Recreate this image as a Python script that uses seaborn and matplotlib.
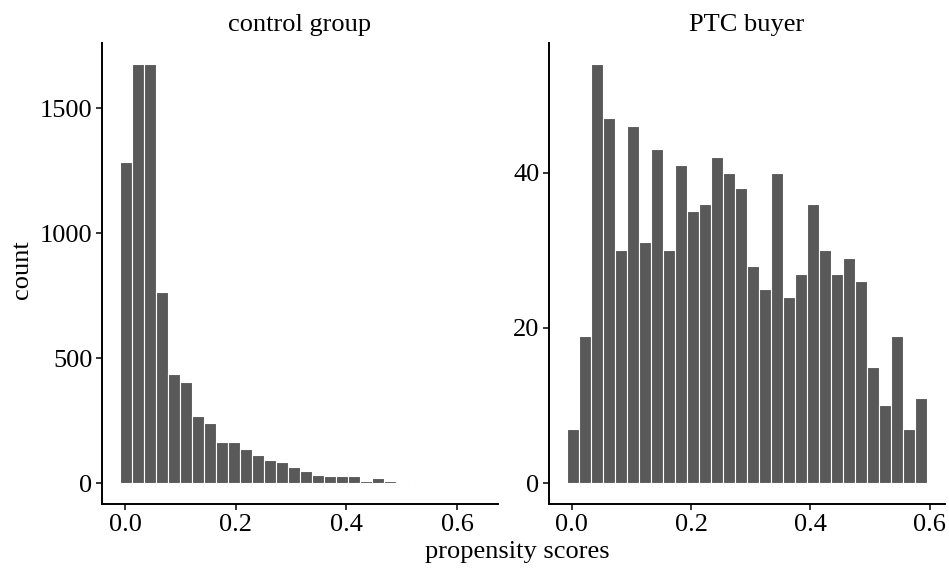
import numpy as np
import pandas as pd
import matplotlib
matplotlib.use("Agg")
import matplotlib.pyplot as plt
import seaborn as sns

# ---- data ----
panels = ["control group", "PTC buyer"]
control_counts = [1285, 1677, 1675, 763, 438, 405, 270, 239, 164, 164,
                  135, 112, 94, 83, 63, 49, 33, 29, 27, 30,
                  9, 19, 8, 5, 3, 1, 0, 0, 0, 1]
control_start = -0.0095
control_binwidth = 0.0217
ptc_counts = [7, 19, 54, 47, 30, 46, 31, 43, 30, 41,
              35, 36, 42, 40, 38, 28, 25, 40, 24, 27,
              36, 30, 27, 29, 26, 15, 10, 19, 7, 11]
ptc_start = -0.0078
ptc_binwidth = 0.0201
x_ticks = [0.0, 0.2, 0.4, 0.6]
control_yticks = [0, 500, 1000, 1500]
ptc_yticks = [0, 20, 40]

sns.set_theme(style="ticks")
plt.rcParams["font.family"] = ["Liberation Serif", "DejaVu Serif"]

FS = 19

fig = plt.figure(figsize=(9.49, 5.70), dpi=100)
W, H = 949, 570
def add_ax(x0, y0, x1, y1):
    return fig.add_axes([x0 / W, 1 - y1 / H, (x1 - x0) / W, (y1 - y0) / H])

ax_l = add_ax(102, 43, 498, 504)
ax_r = add_ax(549, 43, 945, 504)

specs = [
    (ax_l, panels[0], control_counts, control_start, control_binwidth, control_yticks),
    (ax_r, panels[1], ptc_counts, ptc_start, ptc_binwidth, ptc_yticks),
]

for ax, title, counts, start, bw, yticks in specs:
    n = len(counts)
    lo = start
    hi = start + bw * n
    centers = start + bw * (np.arange(n) + 0.5)
    df = pd.DataFrame({"score": centers, "count": counts})
    sns.histplot(data=df, x="score", weights="count", binwidth=bw,
                 binrange=(lo, hi), ax=ax,
                 color="#595959", edgecolor="white", linewidth=0.8, alpha=1.0)
    r = hi - lo
    ax.set_xlim(lo - 0.05 * r, hi + 0.05 * r)
    m = max(counts)
    ax.set_ylim(-0.05 * m, 1.05 * m)
    ax.set_xticks(x_ticks)
    ax.set_xticklabels([f"{t:.1f}" for t in x_ticks])
    ax.set_yticks(yticks)
    ax.set_yticklabels([str(t) for t in yticks])
    ax.set_title(title, fontsize=FS, color="black", pad=9)
    ax.set_xlabel("")
    ax.set_ylabel("")
    for s in ["top", "right"]:
        ax.spines[s].set_visible(False)
    for s in ["left", "bottom"]:
        ax.spines[s].set_linewidth(1.4)
        ax.spines[s].set_color("black")
    ax.tick_params(axis="both", length=4, width=1.1, colors="black",
                   labelsize=FS, pad=3)
    ax.grid(False)

fig.text(517 / W, 1 - 552 / H, "propensity scores", ha="center", va="center",
         fontsize=FS, color="black")
fig.text(22 / W, 1 - 270 / H, "count", ha="center", va="center",
         rotation=90, fontsize=FS, color="black")

fig.savefig("out.png", dpi=100, facecolor="white")
